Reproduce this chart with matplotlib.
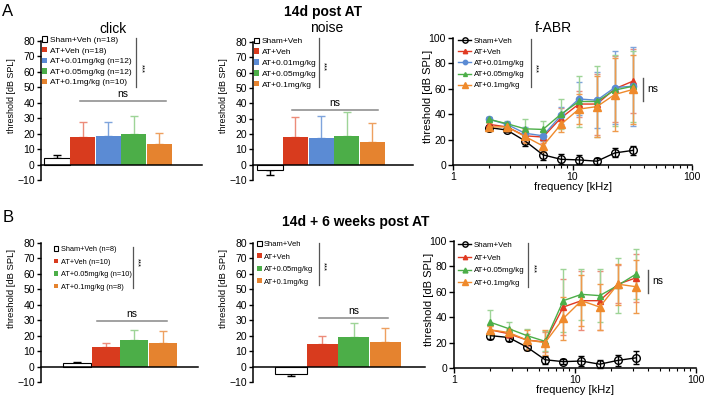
import numpy as np
import matplotlib
matplotlib.use('Agg')
import matplotlib.pyplot as plt
from matplotlib.lines import Line2D

plt.rcParams['font.family'] = ['Liberation Sans', 'DejaVu Sans']

# ---------------- data ----------------
labels_A_click = ['Sham+Veh (n=18)', 'AT+Veh (n=18)', 'AT+0.01mg/kg (n=12)',
                  'AT+0.05mg/kg (n=12)', 'AT+0.1mg/kg (n=10)']
labels_A_noise = ['Sham+Veh', 'AT+Veh', 'AT+0.01mg/kg', 'AT+0.05mg/kg', 'AT+0.1mg/kg']
click_A_mean = [4, 18, 18.5, 20, 13.5]
click_A_err = [2, 9.5, 9, 11.5, 7]
noise_A_mean = [-3.5, 18, 17.5, 19, 14.5]
noise_A_err = [3, 13, 14.5, 15.5, 12.5]

labels_B_click = ['Sham+Veh (n=8)', 'AT+Veh (n=10)', 'AT+0.05mg/kg (n=10)', 'AT+0.1mg/kg (n=8)']
labels_B_noise = ['Sham+Veh', 'AT+Veh', 'AT+0.05mg/kg', 'AT+0.1mg/kg']
click_B_mean = [2, 12.5, 17.5, 15]
click_B_err = [0.8, 3, 6, 8]
noise_B_mean = [-5, 14.5, 19, 16]
noise_B_err = [1, 5.5, 9, 9]

freq = [2, 2.83, 4, 5.66, 8, 11.3, 16, 22.6, 32]

fA_sham = [29.5, 27.5, 19, 8, 4.5, 4, 3, 9.5, 11.5]
fA_sham_err = [2, 1.5, 4, 4, 4, 3.5, 2.5, 3.5, 3.5]
fA_veh = [32, 30, 23, 22, 37, 48, 48, 60, 66]
fA_veh_err = [3, 3, 5, 5, 8, 10, 24, 26, 25]
fA_001 = [36, 32, 25, 23, 39, 52, 51, 61, 62]
fA_001_err = [2, 2, 5, 4, 7, 13, 22, 29, 31]
fA_005 = [36, 32.5, 28.5, 28, 40, 50, 50, 59, 62]
fA_005_err = [2, 2, 8, 7, 12, 20, 28, 28, 28]
fA_01 = [30, 30, 22.5, 15, 32, 44, 46, 55.5, 59.5]
fA_01_err = [3, 3, 5, 5, 6, 12, 24, 29, 27]

fB_sham = [25.5, 24, 16.5, 6.5, 5, 5.5, 3, 6, 8]
fB_sham_err = [3, 3, 2, 3, 2, 4, 3, 4.5, 5]
fB_veh = [30, 27, 22, 20.5, 48, 53, 53, 66, 71]
fB_veh_err = [3, 3, 5, 8, 22, 23, 23, 15, 19]
fB_005 = [36, 31, 25.5, 21, 53, 58, 57, 65, 74]
fB_005_err = [10, 5, 5, 8, 25, 20, 21, 22, 20]
fB_01 = [30, 28, 22, 20, 39, 53, 48, 66, 64]
fB_01_err = [3, 3, 8, 10, 17, 20, 18, 16, 21]

# ---------------- styles ----------------
RED, BLUE, GREEN, ORANGE = '#d83b1e', '#5b8bd4', '#4cae48', '#e5832f'
ERED, EBLUE, EGREEN, EORANGE = '#ec8c7a', '#7fa4dc', '#9ed497', '#eea060'

W, H = 708, 399
fig = plt.figure(figsize=(W / 100, H / 100), dpi=100)


def add_ax(l, t, r, b):
    return fig.add_axes([l / W, 1 - b / H, (r - l) / W, (b - t) / H])


def fig_line(x0, y0, x1, y1, color='#666666', lw=1.0):
    fig.add_artist(Line2D([x0 / W, x1 / W], [1 - y0 / H, 1 - y1 / H],
                          transform=fig.transFigure, color=color, lw=lw))


def fig_text(x, y, s, **kw):
    fig.text(x / W, 1 - y / H, s, **kw)


def bar_panel(box, means, errs, labels, colors, ecolors, xlim, leg_xy, leg_fs,
              leg_sp, ylab_fs, ylab_y, ylab_off=25):
    ax = add_ax(*box)
    x = np.arange(len(means))
    for i in range(len(means)):
        if i == 0:
            ax.bar(x[i], means[i], width=1.0, facecolor='white', edgecolor='black',
                   linewidth=0.8, label=labels[i], zorder=2)
        else:
            ax.bar(x[i], means[i], width=0.98, color=colors[i], edgecolor='none',
                   label=labels[i], zorder=2)
        lo = errs[i] if means[i] < 0 else 0
        hi = errs[i] if means[i] >= 0 else 0
        ax.errorbar(x[i], means[i], yerr=[[lo], [hi]], fmt='none',
                    ecolor=ecolors[i], elinewidth=1.0, capsize=3, capthick=1.0, zorder=1)
    ax.set_xlim(*xlim)
    ax.set_ylim(-10, 80)
    ax.set_yticks(np.arange(-10, 81, 10))
    ax.tick_params(axis='y', labelsize=7.5, length=3, width=1, pad=1.5)
    ax.tick_params(axis='x', length=0, labelbottom=False)
    for s in ['top', 'right']:
        ax.spines[s].set_visible(False)
    ax.spines['bottom'].set_position(('data', 0))
    ax.spines['left'].set_linewidth(1.1)
    ax.spines['bottom'].set_linewidth(1.1)
    ax.set_ylabel('threshold [dB SPL]', fontsize=ylab_fs)
    wpx = box[2] - box[0]
    ax.yaxis.set_label_coords(-ylab_off / wpx, ylab_y)
    ax.legend(loc='upper left', bbox_to_anchor=(leg_xy[0] / W, 1 - leg_xy[1] / H),
              bbox_transform=fig.transFigure, frameon=False, fontsize=leg_fs,
              handlelength=0.6, handleheight=0.6, handletextpad=0.3,
              labelspacing=leg_sp, borderpad=0, borderaxespad=0)
    return ax


def fabr_panel(box, series, ylab_y, leg_xy, leg_sp):
    ax = add_ax(*box)
    handles, labs = [], []
    for mean, err, lab, col, ecol, mk, ms, mfc in series:
        eb = ax.errorbar(freq, mean, yerr=err, color=col, ecolor=ecol, marker=mk,
                         ms=ms, mfc=mfc, mec=col, mew=1.0, lw=1.0, elinewidth=1.0,
                         capsize=2.5, capthick=1.0, clip_on=False)
        handles.append(eb.lines[0])
        labs.append(lab)
    ax.set_xscale('log')
    ax.set_xlim(1, 100)
    ax.set_ylim(0, 100)
    ax.set_yticks(np.arange(0, 101, 20))
    ax.set_xticks([1, 10, 100])
    ax.set_xticklabels(['1', '10', '100'])
    ax.tick_params(axis='both', which='major', labelsize=7.5, length=3.5, width=1, pad=1.5)
    ax.tick_params(axis='x', which='minor', length=2.5, width=0.8)
    for s in ['top', 'right']:
        ax.spines[s].set_visible(False)
    ax.spines['left'].set_linewidth(1.1)
    ax.spines['bottom'].set_linewidth(1.1)
    ax.set_ylabel('threshold [dB SPL]', fontsize=8)
    ax.yaxis.set_label_coords(-20 / (box[2] - box[0]), ylab_y)
    ax.set_xlabel('frequency [kHz]', fontsize=8, labelpad=0)
    ax.legend(handles=handles, labels=labs,
              loc='upper left', bbox_to_anchor=(leg_xy[0] / W, 1 - leg_xy[1] / H),
              bbox_transform=fig.transFigure, frameon=False, fontsize=5.7,
              handlelength=1.7, handletextpad=0.3, labelspacing=leg_sp,
              borderpad=0, borderaxespad=0, markerscale=0.7)
    return ax


colsA = ['white', RED, BLUE, GREEN, ORANGE]
ecolsA = ['black', ERED, EBLUE, EGREEN, EORANGE]
colsB = ['white', RED, GREEN, ORANGE]
ecolsB = ['black', ERED, EGREEN, EORANGE]

# ---------------- Row A ----------------
bar_panel((41, 41, 202, 180), click_A_mean, click_A_err, labels_A_click, colsA, ecolsA,
          (-0.62, 5.66), (42, 36.5), 6, 0.36, 6.4, 0.61)
bar_panel((253, 42, 413, 180), noise_A_mean, noise_A_err, labels_A_noise, colsA, ecolsA,
          (-0.66, 5.59), (254, 37.5), 6.0, 0.4, 6.4, 0.61)
fig_text(113, 29, 'click', fontsize=10, ha='center', va='center')
fig_text(327, 28, 'noise', fontsize=10, ha='center', va='center')

fabr_panel((453, 38, 692, 165), [
    (fA_sham, fA_sham_err, 'Sham+Veh', 'black', 'black', 'o', 5.5, 'none'),
    (fA_veh, fA_veh_err, 'AT+Veh', '#e03a22', ERED, '^', 4.5, '#e03a22'),
    (fA_001, fA_001_err, 'AT+0.01mg/kg', BLUE, EBLUE, 'o', 4.5, BLUE),
    (fA_005, fA_005_err, 'AT+0.05mg/kg', GREEN, EGREEN, '^', 4.0, GREEN),
    (fA_01, fA_01_err, 'AT+0.1mg/kg', '#ef8a2c', '#ef9a4c', '^', 5.5, '#ef8a2c'),
], 0.54, (458, 37.5), 0.45)
fig_text(553, 28, 'f-ABR', fontsize=10, ha='center', va='center')

# ---------------- Row B ----------------
bar_panel((41, 243, 198, 382), click_B_mean, click_B_err, labels_B_click, colsB, ecolsB,
          (-1.27, 4.24), (54, 246), 5.3, 0.75, 6.8, 0.67)
bar_panel((253, 243, 425, 382), noise_B_mean, noise_B_err, labels_B_noise, colsB, ecolsB,
          (-1.2, 4.26), (257, 241), 5.5, 0.7, 6.8, 0.67)
fabr_panel((454, 241, 696, 368), [
    (fB_sham, fB_sham_err, 'Sham+Veh', 'black', 'black', 'o', 5.5, 'none'),
    (fB_veh, fB_veh_err, 'AT+Veh', '#e03a22', ERED, '^', 4.5, '#e03a22'),
    (fB_005, fB_005_err, 'AT+0.05mg/kg', GREEN, EGREEN, '^', 5.0, GREEN),
    (fB_01, fB_01_err, 'AT+0.1mg/kg', '#ef8a2c', '#ef9a4c', '^', 5.5, '#ef8a2c'),
], 0.54, (458, 241.5), 0.65)

# ---------------- annotations ----------------
fig_text(8, 12, 'A', fontsize=12, ha='center', va='center')
fig_text(8, 218, 'B', fontsize=12, ha='center', va='center')
fig_text(323, 12, '14d post AT', fontsize=10, fontweight='bold', ha='center', va='center')
fig_text(356, 222, '14d + 6 weeks post AT', fontsize=10, fontweight='bold', ha='center', va='center')

# significance bars (***)
for (x, y0, y1, ys) in [(136, 38, 87, 68), (319, 38, 87, 67), (531, 39, 87, 68),
                        (133, 247, 288, 262), (319, 243, 285, 266), (528, 243, 287, 268)]:
    fig_line(x, y0, x, y1, color='#555555', lw=0.9)
    fig_text(x + 4.5, ys, '***', fontsize=5.5, rotation=270, ha='center', va='center')

# ns brackets for bars
for (x0, x1, y, ty) in [(80, 166, 101, 94), (292, 378, 110, 103),
                        (97, 167, 321, 314), (319, 388, 318, 311)]:
    fig_line(x0, y, x1, y, color='#888888', lw=1.1)
    fig_text((x0 + x1) / 2, ty, 'ns', fontsize=7.5, ha='center', va='center')

# ns for f-ABR
fig_line(643, 78, 643, 101, color='#555555', lw=1.0)
fig_text(647, 89, 'ns', fontsize=7.5, ha='left', va='center')
fig_line(648, 270, 648, 293, color='#555555', lw=1.0)
fig_text(652, 281, 'ns', fontsize=7.5, ha='left', va='center')

fig.savefig('out.png', dpi=100)
